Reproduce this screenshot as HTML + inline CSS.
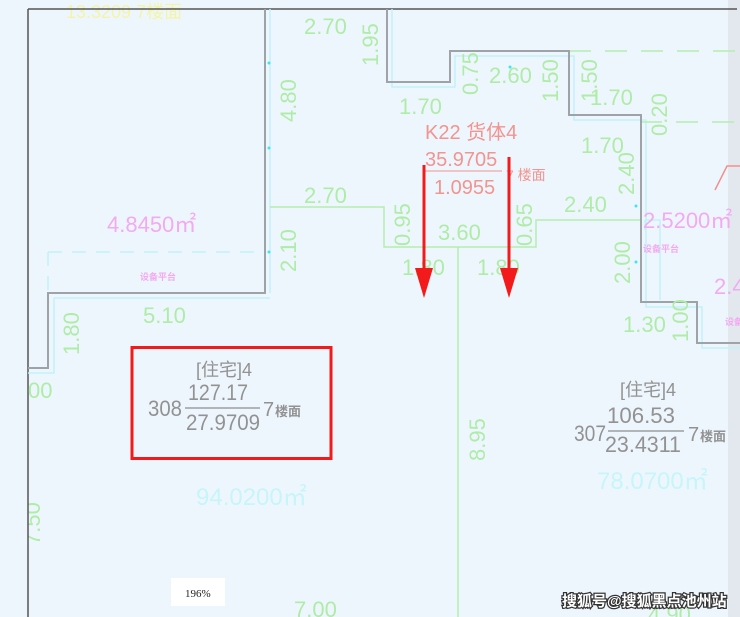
<!DOCTYPE html>
<html><head><meta charset="utf-8"><style>
html,body{margin:0;padding:0;background:#eef6fd;}
svg{display:block}
text{font-family:"Liberation Sans Narrow","Liberation Sans","Noto Sans CJK SC",sans-serif;}
.g{fill:#aeeca8;font-size:22px}
.gl{stroke:#b4eeb0;stroke-width:1.5;fill:none}
.w{stroke:#9ea3a8;stroke-width:2;fill:none}
.c{stroke:#bff2f8;stroke-width:1.5;fill:none}
.m{fill:#f2aaf0}
.k{fill:#929292}
.r{fill:#f2948f}
</style></head><body>
<svg width="740" height="617" viewBox="0 0 740 617" xmlns="http://www.w3.org/2000/svg">
<rect width="740" height="617" fill="#eef6fd"/>
<rect x="728" y="0" width="12" height="617" fill="#e2e8ee"/>
<text x="66" y="18" fill="#f4f4a8" font-size="18">13.3209 7楼面</text>
<text class="g" transform="translate(40,545) rotate(-90)">7.50</text>
<rect x="0" y="0" width="28" height="617" fill="#eef6fd"/>
<line x1="28" y1="9" x2="737" y2="9" stroke="#555" stroke-width="1.5"/>
<line x1="28" y1="9" x2="28" y2="617" stroke="#555" stroke-width="1.5"/>
<path class="c" d="M270 9V293M54 298H270M54 298V373H28M392 9V87H455V56H574V120H646V307H702V348H740"/>
<path class="c" d="M48 252H265M48 252V293" stroke-dasharray="14,10"/>
<path class="c" d="M645 220H660V300M645 220V230" />
<circle cx="269" cy="63" r="1.5" fill="#3de6f0"/><circle cx="269" cy="148" r="1.5" fill="#3de6f0"/><circle cx="269" cy="252" r="1.5" fill="#3de6f0"/><circle cx="510" cy="67" r="1.5" fill="#3de6f0"/><circle cx="636" cy="206" r="1.5" fill="#3de6f0"/><circle cx="636" cy="262" r="1.5" fill="#3de6f0"/>
<path class="gl" d="M270 207H384V247H536V220H640M458 247V617"/>
<path class="gl" d="M569 51H740M640 122H740" stroke-dasharray="22,14"/>
<path class="w" d="M265 9V293H48V368H28"/>
<path class="w" d="M387 9V82H450V51H569V115H641V302H697V343H740"/>
<path d="M715 190L727 166H740" stroke="#f2908c" stroke-width="1.5" fill="none"/>
<text class="g" x="304" y="34">2.70</text>
<text class="g" transform="translate(378,66) rotate(-90)">1.95</text>
<text class="g" transform="translate(296,122) rotate(-90)">4.80</text>
<text class="g" x="304" y="203">2.70</text>
<text class="g" transform="translate(296,272) rotate(-90)">2.10</text>
<text class="g" x="143" y="323">5.10</text>
<text class="g" transform="translate(79,355) rotate(-90)">1.80</text>
<text class="g" x="28" y="398">00</text>
<text class="g" x="399" y="114">1.70</text>
<text class="g" transform="translate(478,95) rotate(-90)">0.75</text>
<text class="g" x="489" y="83">2.60</text>
<text class="g" transform="translate(558,102) rotate(-90)">1.50</text>
<text class="g" transform="translate(597,102) rotate(-90)">1.50</text>
<text class="g" x="590" y="105">1.70</text>
<text class="g" transform="translate(667,136) rotate(-90)">0.20</text>
<text class="g" x="581" y="153">1.70</text>
<text class="g" transform="translate(634,195) rotate(-90)">2.40</text>
<text class="g" transform="translate(410,246) rotate(-90)">0.95</text>
<text class="g" x="438" y="240">3.60</text>
<text class="g" transform="translate(532,246) rotate(-90)">0.65</text>
<text class="g" x="564" y="212">2.40</text>
<text class="g" x="402" y="275">1.80</text>
<text class="g" x="477" y="275">1.80</text>
<text class="g" transform="translate(630,284) rotate(-90)">2.00</text>
<text class="g" x="623" y="332">1.30</text>
<text class="g" transform="translate(688,342) rotate(-90)">1.00</text>
<text class="g" transform="translate(485,461) rotate(-90)">8.95</text>
<text class="g" x="294" y="617">7.00</text>
<text class="g" x="648" y="622">4.90</text>
<text class="m" x="107" y="232" font-size="22">4.8450㎡</text>
<text class="m" x="140" y="280" font-size="9" font-weight="bold">设备平台</text>
<text class="m" x="643" y="228" font-size="22">2.5200㎡</text>
<text class="m" x="643" y="252" font-size="9" font-weight="bold">设备平台</text>
<text class="m" x="714" y="294" font-size="22">2.4</text>
<text class="m" x="725" y="325" font-size="9" font-weight="bold">设备</text>
<text class="r" x="425" y="139" font-size="20">K22 货体4</text>
<text class="r" x="425" y="166" font-size="20">35.9705</text>
<line x1="424" y1="171" x2="502" y2="171" stroke="#f2908c" stroke-width="1"/>
<text class="r" x="434" y="194" font-size="20">1.0955</text>
<text class="r" x="506" y="180" font-size="14">7 楼面</text>
<line x1="424" y1="165" x2="424" y2="272" stroke="#f21a1a" stroke-width="3"/>
<polygon points="415,268 433,268 424,298" fill="#f21a1a"/>
<line x1="509" y1="157" x2="509" y2="272" stroke="#f21a1a" stroke-width="3"/>
<polygon points="500,268 518,268 509,298" fill="#f21a1a"/>
<rect x="132" y="347.5" width="199" height="111" fill="none" stroke="#f21a1a" stroke-width="3"/>
<text class="k" x="196" y="376" font-size="18">[住宅]4</text>
<text class="k" x="148" y="416" font-size="22" textLength="34" lengthAdjust="spacingAndGlyphs">308</text>
<text class="k" x="188" y="400" font-size="22" textLength="60" lengthAdjust="spacingAndGlyphs">127.17</text>
<line x1="185" y1="408" x2="260" y2="408" stroke="#8e8e8e" stroke-width="1.2"/>
<text class="k" x="186" y="430" font-size="22" textLength="74" lengthAdjust="spacingAndGlyphs">27.9709</text>
<text class="k" x="263" y="416" font-size="20">7</text><text class="k" x="275" y="416" font-size="13" font-weight="bold">楼面</text>
<text class="k" x="620" y="396" font-size="18">[住宅]4</text>
<text class="k" x="574" y="441" font-size="22" textLength="32" lengthAdjust="spacingAndGlyphs">307</text>
<text class="k" x="607" y="423" font-size="22" textLength="68" lengthAdjust="spacingAndGlyphs">106.53</text>
<line x1="608" y1="431" x2="684" y2="431" stroke="#8e8e8e" stroke-width="1.2"/>
<text class="k" x="605" y="452" font-size="22" textLength="76" lengthAdjust="spacingAndGlyphs">23.4311</text>
<text class="k" x="688" y="441" font-size="20">7</text><text class="k" x="700" y="441" font-size="13" font-weight="bold">楼面</text>
<text x="196" y="505" fill="#c6f5fa" font-size="24">94.0200㎡</text>
<text x="597" y="489" fill="#c6f5fa" font-size="24">78.0700㎡</text>
<rect x="171" y="578" width="54" height="28" fill="#fff"/>
<text x="185" y="597" font-size="11" fill="#222" style="font-family:'Liberation Serif',serif">196%</text>
<text x="562" y="606" font-size="15" font-weight="bold" fill="#fff" stroke="#333" stroke-width="2.5" paint-order="stroke" style="font-family:'Liberation Sans','Noto Sans CJK SC',sans-serif">搜狐号@搜狐黑点池州站</text>
</svg>
</body></html>
